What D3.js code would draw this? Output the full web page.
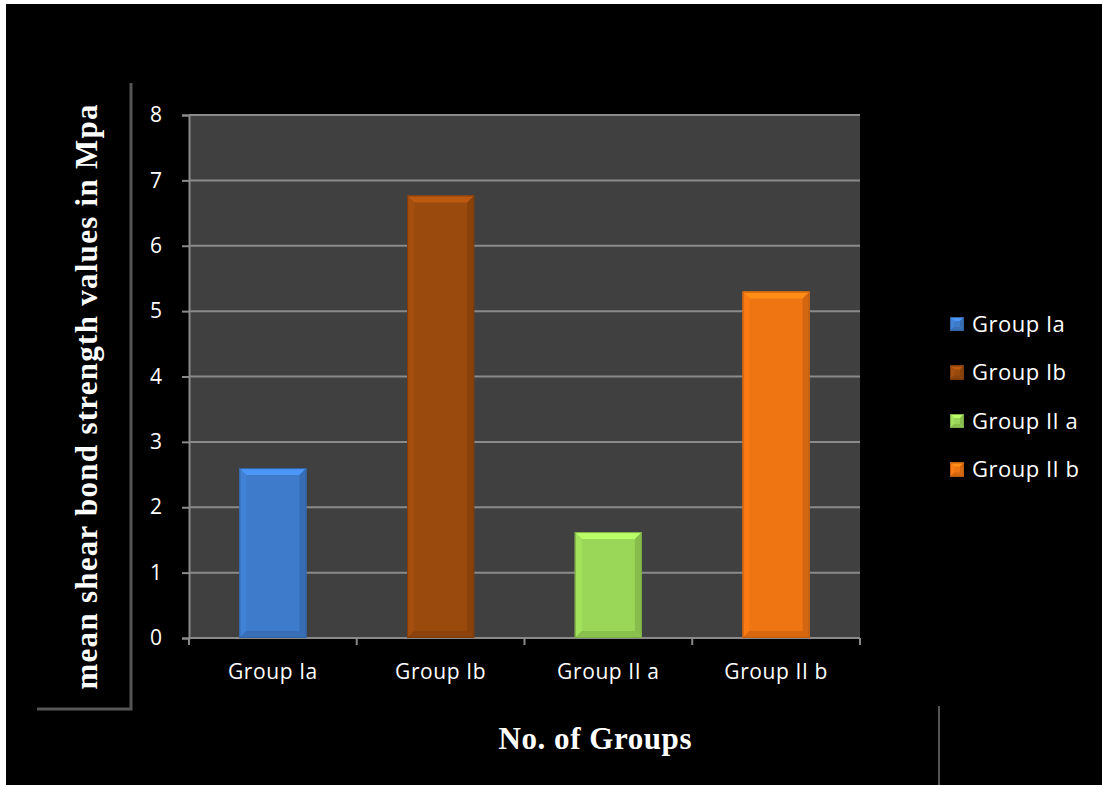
<!DOCTYPE html>
<html>
<head>
<meta charset="utf-8">
<script src="https://cdn.jsdelivr.net/npm/d3@7"></script>
<style>
  html, body { margin: 0; padding: 0; background: #ffffff; }
  svg { display: block; }
</style>
</head>
<body>
<svg id="chart" width="1102" height="785"></svg>
<script>
// Mean shear bond strength per group (MPa)
const categories = ["Group Ia", "Group Ib", "Group II a", "Group II b"];
const values = [2.6, 6.77, 1.62, 5.3];
const yTicks = [0, 1, 2, 3, 4, 5, 6, 7, 8];
const colors = ["#3e7bcb", "#9b4a0e", "#9ad657", "#ef7412"];

const svg = d3.select("#chart");
const W = 1102, H = 785;
const sans = "'Open Sans', sans-serif";
const serif = "'Liberation Serif', 'Times New Roman', serif";

// dark page background with the thin white margin at top/left
svg.append("rect").attr("width", W).attr("height", H).attr("fill", "#ffffff");
svg.append("rect").attr("x", 6).attr("y", 4).attr("width", W - 6).attr("height", H - 4).attr("fill", "#000000");

const plot = { left: 189, right: 860, top: 115, bottom: 638 };

const x = d3.scaleBand().domain(categories).range([plot.left, plot.right]).paddingInner(0.6).paddingOuter(0.3);
const xBound = d3.scaleLinear().domain([0, categories.length]).range([plot.left, plot.right]);
const y = d3.scaleLinear().domain([0, 8]).range([plot.bottom, plot.top]);

// plot area
svg.append("rect")
  .attr("x", plot.left).attr("y", plot.top)
  .attr("width", plot.right - plot.left).attr("height", plot.bottom - plot.top)
  .attr("fill", "#404040");

// gridlines
svg.append("g").selectAll("line").data(yTicks.filter(d => d > 0)).join("line")
  .attr("x1", plot.left).attr("x2", plot.right)
  .attr("y1", d => y(d)).attr("y2", d => y(d))
  .attr("stroke", "#8a8a8a").attr("stroke-width", 2);

// y axis
const yAxis = d3.axisLeft(y).tickValues(yTicks).tickSize(7).tickPadding(20).tickFormat(d3.format("d"));
const gy = svg.append("g").attr("transform", `translate(${plot.left},0)`).call(yAxis);
gy.select(".domain").attr("stroke", "#8a8a8a").attr("stroke-width", 2);
gy.selectAll(".tick line").attr("stroke", "#8a8a8a").attr("stroke-width", 2);
gy.selectAll(".tick text").attr("fill", "#ffffff").style("font-family", sans).style("font-size", "21px");

// x axis (ticks at category boundaries)
const gx = svg.append("g").attr("transform", `translate(0,${plot.bottom})`);
gx.append("line").attr("x1", plot.left).attr("x2", plot.right).attr("stroke", "#8a8a8a").attr("stroke-width", 2);
gx.selectAll("line.tk").data(d3.range(categories.length + 1)).join("line").attr("class", "tk")
  .attr("x1", d => xBound(d)).attr("x2", d => xBound(d)).attr("y1", 0).attr("y2", 7)
  .attr("stroke", "#8a8a8a").attr("stroke-width", 2);
gx.selectAll("text").data(categories).join("text")
  .attr("x", d => x(d) + x.bandwidth() / 2).attr("y", 34).attr("dy", "0.35em")
  .attr("text-anchor", "middle").attr("fill", "#ffffff")
  .style("font-family", sans).style("font-size", "21px").style("letter-spacing", "0.6px")
  .text(d => d);

// bevelled bars
function bevel(g, x0, y0, w, h, base, b) {
  const c = d3.color(base);
  const x1 = x0 + w, y1 = y0 + h;
  g.append("rect").attr("x", x0).attr("y", y0).attr("width", w).attr("height", h).attr("fill", base);
  const poly = (pts, fill) => g.append("polygon").attr("points", pts.map(p => p.join(",")).join(" ")).attr("fill", fill);
  poly([[x0, y0], [x1, y0], [x1 - b, y0 + b], [x0 + b, y0 + b]], c.brighter(0.55));
  poly([[x0, y0], [x0 + b, y0 + b], [x0 + b, y1 - b], [x0, y1]], c.brighter(0.15));
  poly([[x1, y0], [x1, y1], [x1 - b, y1 - b], [x1 - b, y0 + b]], c.darker(0.35));
  poly([[x0, y1], [x0 + b, y1 - b], [x1 - b, y1 - b], [x1, y1]], c.darker(0.3));
  g.append("rect").attr("x", x0 + 0.5).attr("y", y0 + 0.5).attr("width", w - 1).attr("height", h - 1)
    .attr("fill", "none").attr("stroke", c.darker(0.6)).attr("stroke-width", 1);
}

const bars = svg.append("g");
categories.forEach((cat, i) => {
  const g = bars.append("g");
  bevel(g, x(cat), y(values[i]), x.bandwidth(), y(0) - y(values[i]), colors[i], 7);
});

// legend
const legend = svg.append("g");
categories.forEach((cat, i) => {
  const ly = 324 + i * 48.5;
  const g = legend.append("g");
  bevel(g, 950, ly - 7, 14, 14, colors[i], 4);
  g.append("text").attr("x", 972).attr("y", ly).attr("dy", "0.35em")
    .attr("fill", "#ffffff").style("font-family", sans).style("font-size", "22px").style("letter-spacing", "0.5px")
    .text(cat);
});

// frame lines around the y title and at lower right
const frame = svg.append("g").attr("stroke", "#555555").attr("stroke-width", 3).attr("fill", "none");
frame.append("polyline").attr("points", "131,83 131,709 37,709");
frame.append("line").attr("x1", 939).attr("x2", 939).attr("y1", 706).attr("y2", 785).attr("stroke-width", 2);

// axis titles
svg.append("text")
  .attr("transform", `translate(97,397) rotate(-90)`)
  .attr("text-anchor", "middle").attr("fill", "#ffffff")
  .attr("textLength", 585).attr("lengthAdjust", "spacing")
  .style("font-family", serif).style("font-weight", "bold").style("font-size", "31px")
  .text("mean shear bond strength values in Mpa");

svg.append("text")
  .attr("x", 595).attr("y", 749)
  .attr("text-anchor", "middle").attr("fill", "#ffffff")
  .attr("textLength", 193).attr("lengthAdjust", "spacing")
  .style("font-family", serif).style("font-weight", "bold").style("font-size", "31px")
  .text("No. of Groups");
</script>
</body>
</html>
